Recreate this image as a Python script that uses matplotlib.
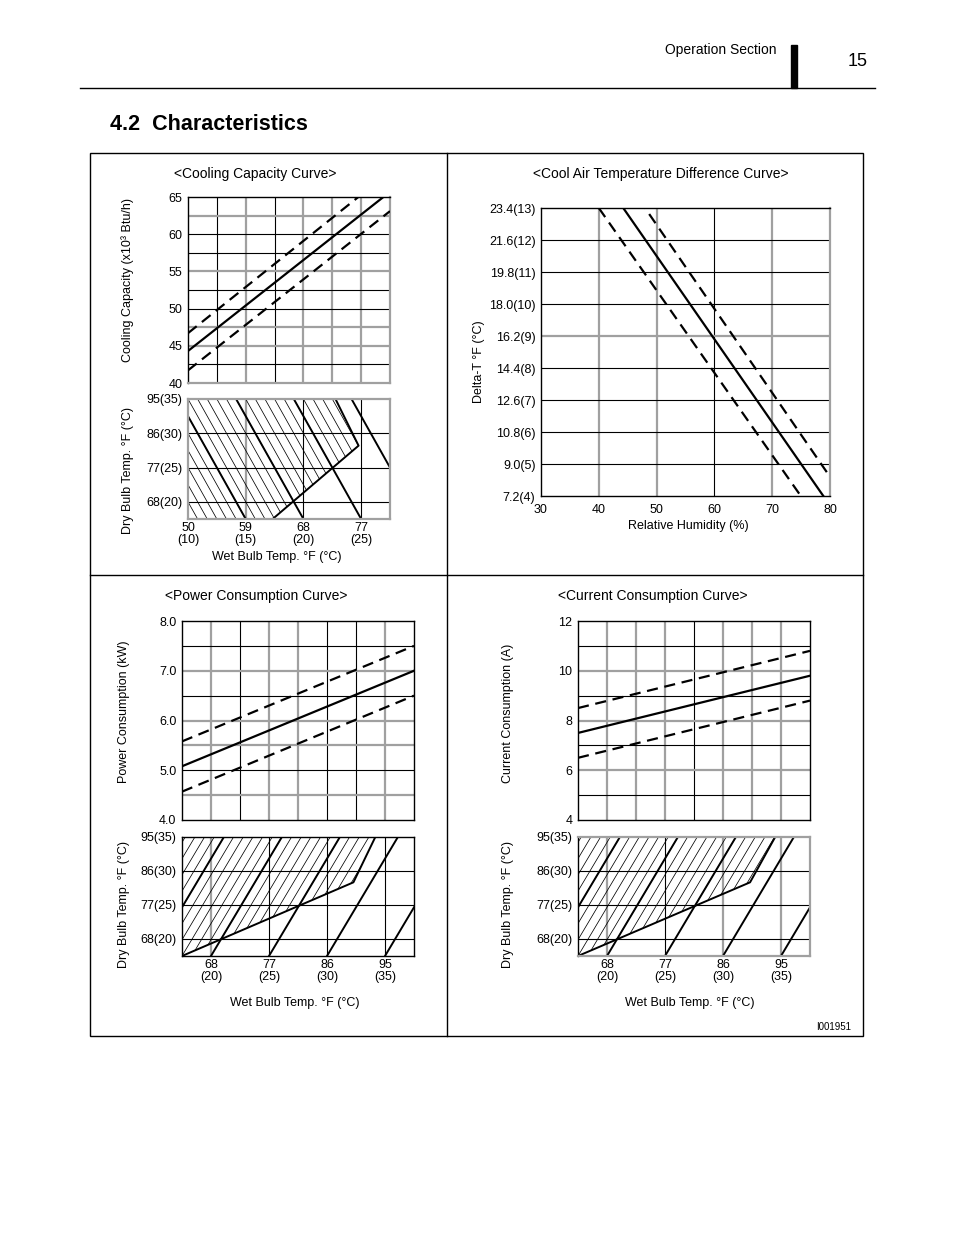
import matplotlib
matplotlib.use("Agg")
import matplotlib.pyplot as plt
import numpy as np
from matplotlib.patches import Polygon, Rectangle

plt.rcParams["font.family"] = ["Liberation Sans", "DejaVu Sans"]

W, H = 954, 1235

# Cooling capacity curve (x: wet bulb °F, y: 10^3 Btu/h)
cool_wb = [50.0, 81.5]
cool_nominal = [44.3, 65.7]
cool_upper = [46.7, 68.4]
cool_lower = [41.7, 63.1]
cool_yticks = [40, 45, 50, 55, 60, 65]
cool_wb_ticks = [50, 59, 68, 77]
cool_wb_labels = ["50\n(10)", "59\n(15)", "68\n(20)", "77\n(25)"]
cool_zone_wb = [50.0, 63.2, 76.6, 73.0, 50.0]
cool_zone_db = [63.5, 63.5, 82.75, 95.0, 95.0]
cool_iso_wb = [59, 68, 77, 86]

db_ticks = [68, 77, 86, 95]
db_labels = ["68(20)", "77(25)", "86(30)", "95(35)"]

# Cool air temperature difference curve (x: RH %, y: delta-T °C)
rh = [40, 80]
dt_nominal = [14.1, 3.7]
dt_upper = [15.1, 4.6]
dt_lower = [13.0, 2.7]
dt_ticks = [4, 5, 6, 7, 8, 9, 10, 11, 12, 13]
dt_labels = ["7.2(4)", "9.0(5)", "10.8(6)", "12.6(7)", "14.4(8)",
             "16.2(9)", "18.0(10)", "19.8(11)", "21.6(12)", "23.4(13)"]
rh_ticks = [30, 40, 50, 60, 70, 80]

# Power consumption curve (kW)
hot_wb = [63.5, 99.5]
pw_nominal = [5.08, 7.0]
pw_upper = [5.58, 7.5]
pw_lower = [4.57, 6.5]
pw_ticks = [4.0, 5.0, 6.0, 7.0, 8.0]
pw_zone_wb = [63.5, 90.1, 93.5, 63.5]
pw_zone_db = [63.5, 83.0, 95.0, 95.0]

# Current consumption curve (A)
cur_nominal = [7.5, 9.8]
cur_upper = [8.5, 10.8]
cur_lower = [6.5, 8.8]
cur_ticks = [4, 6, 8, 10, 12]
cur_zone_wb = [63.5, 90.2, 94.1, 63.5]
cur_zone_db = [63.5, 83.0, 95.0, 95.0]

hot_wb_ticks = [68, 77, 86, 95]
hot_wb_labels = ["68\n(20)", "77\n(25)", "86\n(30)", "95\n(35)"]
hot_iso_wb = [59, 68, 77, 86, 95]

GRAY = "#a0a0a0"
FS = 9


def add_axes(fig, left, top, right, bottom):
    return fig.add_axes([left / W, 1 - bottom / H, (right - left) / W, (bottom - top) / H])


def grid(ax, xs, xcol, ys, ycol):
    for x, c in zip(xs, xcol):
        ax.axvline(x, color=GRAY if c == "g" else "black",
                   lw=1.6 if c == "g" else 0.8, zorder=1)
    for y, c in zip(ys, ycol):
        ax.axhline(y, color=GRAY if c == "g" else "black",
                   lw=1.6 if c == "g" else 0.8, zorder=1)


def frame(ax, cols):
    for side, c in zip(["left", "right", "top", "bottom"], cols):
        ax.spines[side].set_color(GRAY if c == "g" else "black")
        ax.spines[side].set_linewidth(1.6 if c == "g" else 1.0)
        ax.spines[side].set_zorder(3)
    ax.tick_params(length=0, labelsize=FS, pad=4)


def curves(ax, x, nominal, upper, lower):
    ax.plot(x, nominal, color="black", lw=1.6, zorder=4)
    for y in (upper, lower):
        ax.plot(x, y, color="black", lw=1.6, dashes=(5, 3), zorder=4)


def zone(ax, zwb, zdb, iso, run, edge):
    # hatched operating zone, thin lines clipped to the zone, thick iso lines
    poly = Polygon(np.column_stack([zwb, zdb]), closed=True, fill=False,
                   edgecolor="none")
    ax.add_patch(poly)
    lo, hi = 63.5, 95.0
    for x0 in np.arange(iso[0] - 30, iso[-1] + 30, 1.5):
        ln, = ax.plot([x0, x0 + run], [lo, hi], color="black", lw=0.55, zorder=2)
        ln.set_clip_path(poly)
    for x0 in iso:
        ax.plot([x0, x0 + run], [lo, hi], color="black", lw=1.4, zorder=3)
    ax.plot(edge[0], edge[1], color="black", lw=1.4, zorder=3)


def two_line_ticks(ax):
    ax.tick_params(axis="x", pad=2)
    for t in ax.get_xticklabels():
        t.set_linespacing(1.0)


fig = plt.figure(figsize=(W / 100, H / 100), dpi=100)
bg = fig.add_axes([0, 0, 1, 1])
bg.set_xlim(0, W)
bg.set_ylim(H, 0)
bg.axis("off")

# page header
bg.text(777, 50, "Operation Section", ha="right", va="center", fontsize=10)
bg.add_patch(Rectangle((791, 45), 6, 43, color="black"))
bg.text(868, 62, "15", ha="right", va="center", fontsize=13)
bg.plot([80, 875], [88, 88], color="black", lw=1.0)
bg.text(110, 125, "4.2  Characteristics", ha="left", va="center",
        fontsize=15.5, fontweight="bold")

# outer frame and dividers
bg.add_patch(Rectangle((90, 153), 773, 883, fill=False, edgecolor="black", lw=1.0))
bg.plot([447, 447], [153, 1036], color="black", lw=1.0)
bg.plot([90, 863], [575, 575], color="black", lw=1.0)
bg.text(851, 1027, "I001951", ha="right", va="center", fontsize=7)

# titles and axis labels
for x, y, s in [(255, 174, "<Cooling Capacity Curve>"),
                (661, 174, "<Cool Air Temperature Difference Curve>"),
                (256, 596, "<Power Consumption Curve>"),
                (653, 596, "<Current Consumption Curve>")]:
    bg.text(x, y, s, ha="center", va="center", fontsize=10)
for x, y, s in [(277, 557, "Wet Bulb Temp. °F (°C)"),
                (688, 526, "Relative Humidity (%)"),
                (295, 1003, "Wet Bulb Temp. °F (°C)"),
                (690, 1003, "Wet Bulb Temp. °F (°C)")]:
    bg.text(x, y, s, ha="center", va="center", fontsize=FS)
for x, y, s in [(128, 280, "Cooling Capacity (x10³ Btu/h)"),
                (128, 471, "Dry Bulb Temp. °F (°C)"),
                (479, 362, "Delta-T °F (°C)"),
                (124, 712, "Power Consumption (kW)"),
                (124, 904, "Dry Bulb Temp. °F (°C)"),
                (508, 713, "Current Consumption (A)"),
                (508, 905, "Dry Bulb Temp. °F (°C)")]:
    bg.text(x, y, s, ha="center", va="center", fontsize=FS, rotation=90)

# cooling capacity
ax = add_axes(fig, 188, 197, 390, 383)
ax.set_xlim(50, 81.5)
ax.set_ylim(40, 65)
grid(ax, [54.5, 59, 63.5, 68, 72.5, 77], "kgkggg",
     [42.5, 45, 47.5, 50, 52.5, 55, 57.5, 60, 62.5], "kggkkgkkg")
frame(ax, "kgkg")
curves(ax, cool_wb, cool_nominal, cool_upper, cool_lower)
ax.set_xticks([])
ax.set_yticks(cool_yticks)

ax = add_axes(fig, 188, 399, 390, 519)
ax.set_xlim(50, 81.5)
ax.set_ylim(63.5, 95)
grid(ax, [59, 68, 77], "gkk", [68, 77, 86], "kkk")
frame(ax, "gggg")
zone(ax, cool_zone_wb, cool_zone_db, cool_iso_wb, -10.5,
     (cool_zone_wb[1:4], cool_zone_db[1:4]))
ax.set_yticks(db_ticks, db_labels)
ax.set_xticks(cool_wb_ticks, cool_wb_labels)
two_line_ticks(ax)

# delta-T
ax = add_axes(fig, 541, 208, 830, 496)
ax.set_xlim(30, 80)
ax.set_ylim(4, 13)
grid(ax, [40, 50, 60, 70], "ggkg", [5, 6, 7, 8, 9, 10, 11, 12], "kkkkgkkk")
frame(ax, "kgkk")
curves(ax, rh, dt_nominal, dt_upper, dt_lower)
ax.set_xticks(rh_ticks)
ax.set_yticks(dt_ticks, dt_labels)
ax.tick_params(axis="x", pad=5.5)

# power consumption
ax = add_axes(fig, 182, 621, 414, 820)
ax.set_xlim(63.5, 99.5)
ax.set_ylim(4, 8)
grid(ax, [68, 72.5, 77, 81.5, 86, 90.5, 95], "gkggkkg",
     [4.5, 5, 5.5, 6, 6.5, 7, 7.5], "gkggkgk")
frame(ax, "kkkk")
curves(ax, hot_wb, pw_nominal, pw_upper, pw_lower)
ax.set_xticks([])
ax.set_yticks(pw_ticks, [f"{v:.1f}" for v in pw_ticks])

ax = add_axes(fig, 182, 837, 414, 956)
ax.set_xlim(63.5, 99.5)
ax.set_ylim(63.5, 95)
grid(ax, [68, 77, 86, 95], "gkkk", [68, 77, 86], "kkk")
frame(ax, "kkkk")
zone(ax, pw_zone_wb, pw_zone_db, hot_iso_wb, 11,
     (pw_zone_wb[0:3], pw_zone_db[0:3]))
ax.set_yticks(db_ticks, db_labels)
ax.set_xticks(hot_wb_ticks, hot_wb_labels)
two_line_ticks(ax)

# current consumption
ax = add_axes(fig, 578, 621, 810, 820)
ax.set_xlim(63.5, 99.5)
ax.set_ylim(4, 12)
grid(ax, [68, 72.5, 77, 81.5, 86, 90.5, 95], "gggkggg",
     [5, 6, 7, 8, 9, 10, 11], "kgkgkgk")
frame(ax, "kkkk")
curves(ax, hot_wb, cur_nominal, cur_upper, cur_lower)
ax.set_xticks([])
ax.set_yticks(cur_ticks)

ax = add_axes(fig, 578, 837, 810, 956)
ax.set_xlim(63.5, 99.5)
ax.set_ylim(63.5, 95)
grid(ax, [68, 77, 86, 95], "gkgg", [68, 77, 86], "kkk")
frame(ax, "kggg")
zone(ax, cur_zone_wb, cur_zone_db, hot_iso_wb, 11,
     (cur_zone_wb[0:3], cur_zone_db[0:3]))
ax.set_yticks(db_ticks, db_labels)
ax.set_xticks(hot_wb_ticks, hot_wb_labels)
two_line_ticks(ax)

fig.savefig("out.png", dpi=100)
